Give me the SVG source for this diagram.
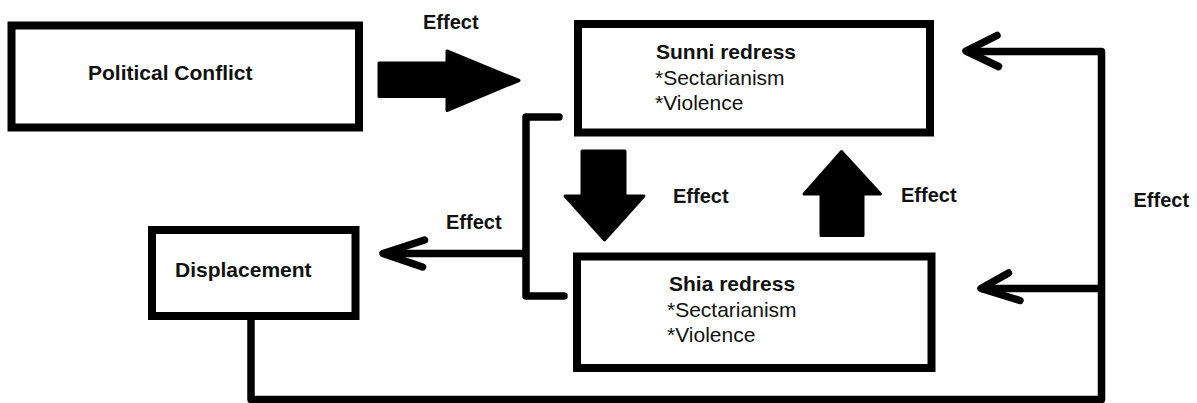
<svg xmlns="http://www.w3.org/2000/svg" width="1197" height="403" viewBox="0 0 1197 403">
<style>
  .box { fill: #fff; stroke: #000; stroke-width: 8; }
  .t { font-family: "Liberation Sans", Arial, sans-serif; font-size: 21px; fill: #111; }
  .b { font-weight: bold; }
  .lbl { font-family: "Liberation Sans", Arial, sans-serif; font-size: 20px; font-weight: bold; fill: #111; }
  .ln { fill: none; stroke: #000; stroke-width: 7.5; stroke-linejoin: round; }
  .cap { stroke-linecap: round; }
  .big { fill: #000; stroke: #000; stroke-width: 3; stroke-linejoin: round; }
</style>
<rect width="1197" height="403" fill="#fff"/>
<g id="node-political">
  <rect class="box" x="11.5" y="25.5" width="347.5" height="102"/>
  <text class="t b" x="88" y="80">Political Conflict</text>
</g>
<g id="node-sunni">
  <rect class="box" x="578" y="24" width="352" height="108.5"/>
  <text class="t b" x="656" y="59">Sunni redress</text>
  <text class="t" x="655" y="85">*Sectarianism</text>
  <text class="t" x="655" y="110">*Violence</text>
</g>
<g id="node-shia">
  <rect class="box" x="577" y="256.5" width="354.5" height="111.5"/>
  <text class="t b" x="669" y="291">Shia redress</text>
  <text class="t" x="667" y="316.5">*Sectarianism</text>
  <text class="t" x="667" y="341.5">*Violence</text>
</g>
<g id="node-displacement">
  <rect class="box" x="152" y="230" width="203.5" height="86"/>
  <text class="t b" x="175" y="277">Displacement</text>
</g>
<g id="connectors">
  <polygon class="big" points="379,63 447,63 447,51 519,80.5 447,110.5 447,96.5 379,96.5"/>
  <polygon class="big" points="582,151 625,151 625,196 644,196 604.5,240 565,196 582,196"/>
  <polygon class="big" points="841.5,151.5 880.5,194 863,194 863,235.5 821,235.5 821,194 804,194"/>
  <path class="ln" d="M251,320 V399.5 H1101.5 V51.5 H966"/>
  <path class="ln cap" d="M997,35.5 L966,51 L998.5,66.5"/>
  <path class="ln" d="M1101.5,288.5 H981"/>
  <path class="ln cap" d="M1008.5,273 L981,288.5 L1020,300.5"/>
  <path class="ln cap" d="M559,117 H526 V296 H564"/>
  <path class="ln" d="M526,253.5 H384"/>
  <path class="ln cap" d="M424.5,240 L383,253.5 L422.5,267"/>
  <text class="lbl" x="423" y="28.5">Effect</text>
  <text class="lbl" x="673" y="203">Effect</text>
  <text class="lbl" x="901" y="201.5">Effect</text>
  <text class="lbl" x="1133.5" y="207">Effect</text>
  <text class="lbl" x="446" y="229">Effect</text>
</g>
</svg>
